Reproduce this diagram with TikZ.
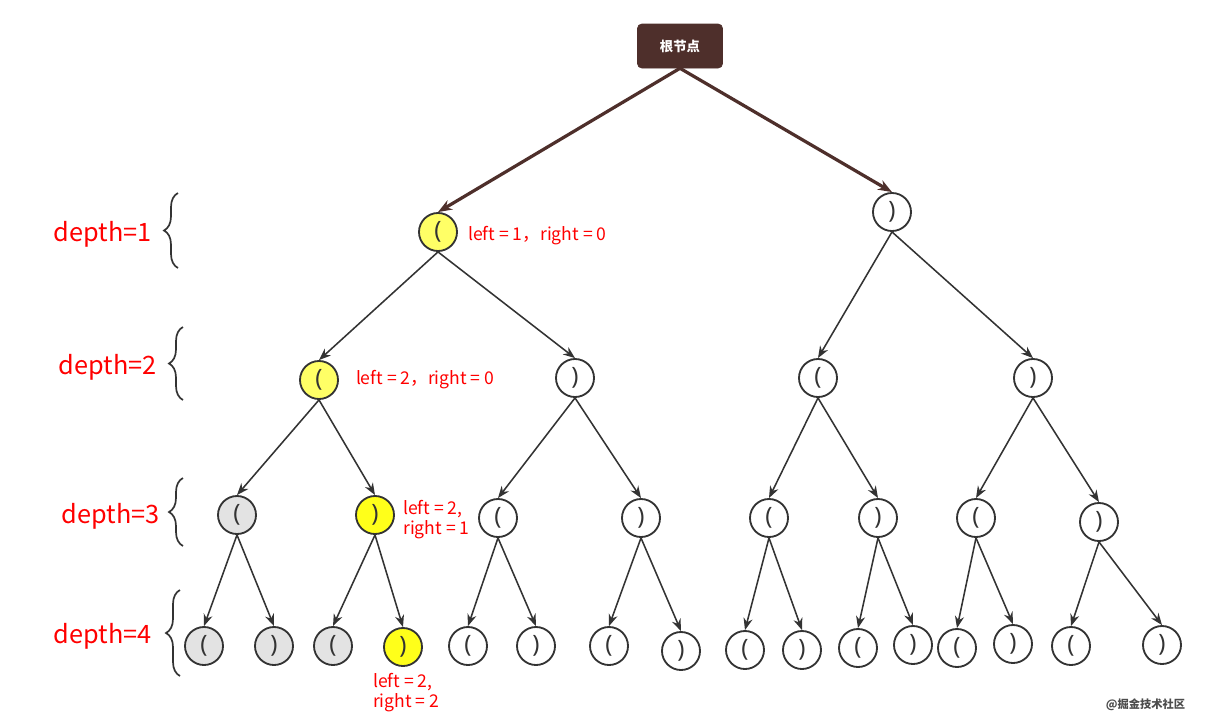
\documentclass[tikz,border=0pt]{standalone}
\usepackage{fontspec}
\setmainfont{Noto Sans}
\newfontfamily\cjk{Noto Sans CJK SC}
\usepackage{xcolor}
\usepackage{tikz}
\usetikzlibrary{arrows.meta,positioning,decorations.pathreplacing}
\definecolor{ink}{HTML}{333333}
\definecolor{rootbrown}{HTML}{4E2F2B}
\definecolor{softyellow}{HTML}{FFFF66}
\definecolor{hotyellow}{HTML}{FFFF1A}
\definecolor{deadgray}{HTML}{E3E3E3}
\definecolor{notered}{HTML}{FF0000}
\tikzset{
  paren/.style={
    circle,draw=ink,line width=1.3pt,fill=white,
    minimum size=0.95cm,inner sep=0pt,
    font=\fontsize{17}{18}\selectfont,text=ink
  },
  litparen/.style={paren,fill=softyellow},
  hotparen/.style={paren,fill=hotyellow},
  deadparen/.style={paren,fill=deadgray},
  rootbox/.style={
    rectangle,rounded corners=3pt,draw=rootbrown,fill=rootbrown,
    minimum width=2.125cm,minimum height=1.1cm,inner sep=0pt,
    font=\cjk\fontsize{9.5}{11}\selectfont\bfseries,text=white
  },
  rootlink/.style={-{Stealth[length=10pt,width=7.5pt]},line width=2.3pt,draw=rootbrown},
  link/.style={-{Stealth[length=8.5pt,width=6.5pt]},line width=1.1pt,draw=ink},
  countnote/.style={font=\cjk\fontsize{12.5}{14.5}\selectfont,text=notered,inner sep=0pt,align=left},
  depthnote/.style={font=\cjk\fontsize{18}{20}\selectfont,text=notered,inner sep=0pt},
  levelbrace/.style={decorate,decoration={brace,amplitude=0.35cm},line width=1.2pt,draw=ink}
}
\begin{document}
\begin{tikzpicture}[x=0.025cm,y=-0.025cm]
  \useasboundingbox (0,0) rectangle (1205,726);
  % root
  \node[rootbox] (root) at (680,46) {根节点};
  % depth 1
  \node[litparen] (d1l) at (438,232) {(};
  \node[paren] (d1r) at (892,212) {)};
  % depth 2
  \node[litparen] (d2a) at (319,380) {(};
  \node[paren] (d2b) at (575,378) {)};
  \node[paren] (d2c) at (818,378) {(};
  \node[paren] (d2d) at (1033,378) {)};
  % depth 3
  \node[deadparen] (d3a) at (237,515) {(};
  \node[hotparen] (d3b) at (375,515) {)};
  \node[paren] (d3c) at (498,518) {(};
  \node[paren] (d3d) at (641,518) {)};
  \node[paren] (d3e) at (769,518) {(};
  \node[paren] (d3f) at (878,518) {)};
  \node[paren] (d3g) at (976,518) {(};
  \node[paren] (d3h) at (1099,522) {)};
  % depth 4
  \node[deadparen] (d4a) at (204,646) {(};
  \node[deadparen] (d4b) at (274,646) {)};
  \node[deadparen] (d4c) at (333,646) {(};
  \node[hotparen] (d4d) at (403,647) {)};
  \node[paren] (d4e) at (468,646) {(};
  \node[paren] (d4f) at (536,646) {)};
  \node[paren] (d4g) at (609,646) {(};
  \node[paren] (d4h) at (681,651) {)};
  \node[paren] (d4i) at (745,650) {(};
  \node[paren] (d4j) at (802,650) {)};
  \node[paren] (d4k) at (858,648) {(};
  \node[paren] (d4l) at (913,645) {)};
  \node[paren] (d4m) at (957,648) {(};
  \node[paren] (d4n) at (1013,644) {)};
  \node[paren] (d4o) at (1071,646) {(};
  \node[paren] (d4p) at (1162,645) {)};
  % counters
  \node[countnote,right=0.25cm of d1l,yshift=-0.1cm] (note1) {left = 1，right = 0};
  \node[countnote,right=0.42cm of d2a] (note2) {left = 2，right = 0};
  \node[countnote,right=0.2cm of d3b,yshift=-0.12cm] (note3) {left = 2,\\ right = 1};
  \node[countnote,below=0.15cm of d4d,xshift=0.08cm] (note4) {left = 2,\\ right = 2};
  % depth braces
  \draw[levelbrace] (178,268) -- (178,193);
  \draw[levelbrace] (183,400) -- (183,327);
  \draw[levelbrace] (183,546) -- (183,478);
  \draw[levelbrace] (180,676) -- (180,590);
  \node[depthnote,anchor=east] (lvl1) at (152,234) {depth=1};
  \node[depthnote,anchor=east] (lvl2) at (157,367) {depth=2};
  \node[depthnote,anchor=east] (lvl3) at (160,516) {depth=3};
  \node[depthnote,anchor=east] (lvl4) at (152,636) {depth=4};
  % edges
  \draw[rootlink] (root.south) -- (d1l.north);
  \draw[rootlink] (root.south) -- (d1r.north);
  \draw[link] (d1l.south) -- (d2a.north);
  \draw[link] (d1l.south) -- (d2b.north);
  \draw[link] (d1r.south) -- (d2c.north);
  \draw[link] (d1r.south) -- (d2d.north);
  \draw[link] (d2a.south) -- (d3a.north);
  \draw[link] (d2a.south) -- (d3b.north);
  \draw[link] (d2b.south) -- (d3c.north);
  \draw[link] (d2b.south) -- (d3d.north);
  \draw[link] (d2c.south) -- (d3e.north);
  \draw[link] (d2c.south) -- (d3f.north);
  \draw[link] (d2d.south) -- (d3g.north);
  \draw[link] (d2d.south) -- (d3h.north);
  \draw[link] (d3a.south) -- (d4a.north);
  \draw[link] (d3a.south) -- (d4b.north);
  \draw[link] (d3b.south) -- (d4c.north);
  \draw[link] (d3b.south) -- (d4d.north);
  \draw[link] (d3c.south) -- (d4e.north);
  \draw[link] (d3c.south) -- (d4f.north);
  \draw[link] (d3d.south) -- (d4g.north);
  \draw[link] (d3d.south) -- (d4h.north);
  \draw[link] (d3e.south) -- (d4i.north);
  \draw[link] (d3e.south) -- (d4j.north);
  \draw[link] (d3f.south) -- (d4k.north);
  \draw[link] (d3f.south) -- (d4l.north);
  \draw[link] (d3g.south) -- (d4m.north);
  \draw[link] (d3g.south) -- (d4n.north);
  \draw[link] (d3h.south) -- (d4o.north);
  \draw[link] (d3h.south) -- (d4p.north);
  % watermark
  \node[font=\cjk\fontsize{8}{9}\selectfont\bfseries,text=black!70,anchor=east] (mark) at (1190,705) {@掘金技术社区};
\end{tikzpicture}
\end{document}
